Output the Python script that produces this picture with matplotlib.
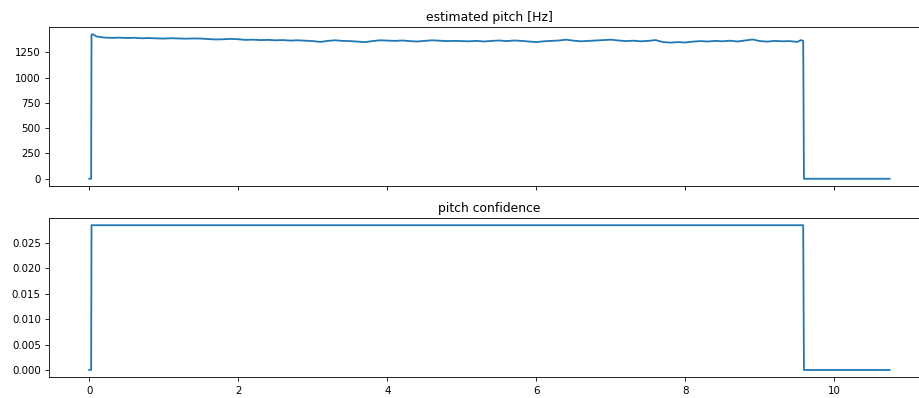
import numpy as np
import matplotlib
matplotlib.use('Agg')
import matplotlib.pyplot as plt

# Времена (с) и оценка высоты тона (Гц)
voice_start = [0.0, 0.025, 0.03, 0.05, 0.07]
pitch_start = [0.0, 0.0, 1425, 1428, 1418]

# сетка 0.1 с внутри озвученного участка
grid_times = np.round(np.arange(0.1, 9.51, 0.1), 2)
pitch_grid = [
    1405, 1395, 1392, 1394, 1390, 1393, 1388, 1390, 1387, 1385,
    1388, 1386, 1384, 1386, 1385, 1380, 1376, 1378, 1382, 1378,
    1372, 1374, 1370, 1372, 1368, 1370, 1365, 1368, 1364, 1360,
    1352, 1362, 1368, 1362, 1360, 1355, 1350, 1360, 1368, 1365,
    1362, 1366, 1360, 1356, 1362, 1368, 1364, 1360, 1362, 1360,
    1358, 1362, 1356, 1362, 1366, 1360, 1366, 1362, 1356, 1350,
    1358, 1362, 1366, 1374, 1364, 1358, 1362, 1366, 1370, 1374,
    1366, 1360, 1364, 1358, 1362, 1370, 1350, 1345, 1350, 1346,
    1355, 1360, 1356, 1362, 1358, 1364, 1356, 1366, 1376, 1360,
    1355, 1362, 1358, 1360, 1352,
]

voice_end = [9.55, 9.58, 9.59, 10.74]
pitch_end = [1370, 1362, 0.0, 0.0]

conf_times = [0.0, 0.025, 0.03, 9.58, 9.59, 10.74]
confidence = [0.0, 0.0, 0.0285, 0.0285, 0.0, 0.0]

times = np.concatenate([voice_start, grid_times, voice_end])
pitch = np.concatenate([pitch_start, pitch_grid, pitch_end])

plt.rcParams['font.size'] = 7.4
plt.rcParams['axes.titlesize'] = 8.9
plt.rcParams['axes.linewidth'] = 0.6
plt.rcParams['xtick.major.size'] = 2.6
plt.rcParams['ytick.major.size'] = 2.6
plt.rcParams['xtick.major.width'] = 0.6
plt.rcParams['ytick.major.width'] = 0.6

fig = plt.figure(figsize=(9.19, 3.98), dpi=100)
ax1 = fig.add_axes([0.0536, 0.5327, 0.9580, 0.3995])
ax2 = fig.add_axes([0.0536, 0.0523, 0.9580, 0.4000], sharex=ax1)

ax1.plot(times, pitch, linewidth=1.3)
ax1.set_title('estimated pitch [Hz]', pad=4)
ax1.set_yticks([0, 250, 500, 750, 1000, 1250])
plt.setp(ax1.get_xticklabels(), visible=False)

ax2.plot(conf_times, confidence, linewidth=1.3)
ax2.set_title('pitch confidence', pad=4)
ax2.set_xticks([0, 2, 4, 6, 8, 10])

fig.savefig('out.png', dpi=100)
